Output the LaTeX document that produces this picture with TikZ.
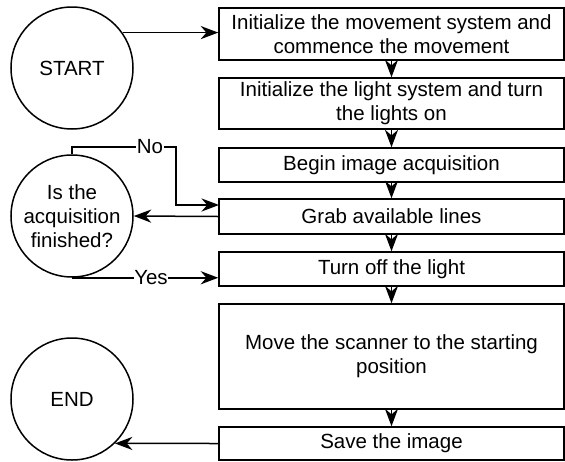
\documentclass[tikz,border=0pt]{standalone}
\usepackage{fontspec}
\setmainfont{Liberation Sans}
\usetikzlibrary{arrows.meta}
\newcommand\dfont{\fontsize{20.5}{24}\selectfont}
\begin{document}
\begin{tikzpicture}[x=1pt,y=-1pt,
  stepbox/.style={draw, line width=1.5pt, minimum width=345pt, inner sep=0pt, align=center, font=\dfont},
  term/.style={draw, circle, line width=1.5pt, minimum size=122pt, inner sep=0pt, align=center, font=\dfont},
  arr/.style={line width=1.5pt, arrows={-Stealth[scale=1.8]}},
  lbl/.style={fill=white, inner sep=0.5pt, font=\dfont}]
\useasboundingbox (0,0) rectangle (565,461);
\node[stepbox, minimum height=52pt] (b1) at (391.5,34) {Initialize the movement system and\\commence the movement};
\node[stepbox, minimum height=51pt] (b2) at (391.5,103.5) {Initialize the light system and turn\\the lights on};
\node[stepbox, minimum height=34pt] (b3) at (391.5,165) {Begin image acquisition};
\node[stepbox, minimum height=35pt] (b4) at (391.5,216.5) {Grab available lines};
\node[stepbox, minimum height=34pt] (b5) at (391.5,269) {Turn off the light};
\node[stepbox, minimum height=105pt] (b6) at (391.5,356.5) {Move the scanner to the starting\\position};
\node[stepbox, minimum height=33pt] (b7) at (391.5,443.5) {Save the image};
\node[term] (start) at (72,68) {START};
\node[term] (dec) at (72,216) {Is the\\acquisition\\finished?};
\node[term] (endc) at (72,399) {END};
\coordinate (nocorner) at (176,147);
\coordinate (noend) at (219,205);
\draw[arr] (start.35) -- (start.35 -| b1.west);
\draw[arr] (b1.south) -- (b2.north);
\draw[arr] (b2.south) -- (b3.north);
\draw[arr] (b3.south) -- (b4.north);
\draw[arr] (b4.south) -- (b5.north);
\draw[arr] (b5.south) -- (b6.north);
\draw[arr] (b6.south) -- (b7.north);
\draw[arr] (dec.north) |- node[lbl, pos=0.875] {No} (nocorner) |- (noend);
\draw[arr] (b4.west) -- (dec.east);
\draw[arr] (dec.south) -- node[lbl, pos=0.54] {Yes} (dec.south -| b5.west);
\draw[arr] (b7.west) -- (endc.-46);
\end{tikzpicture}
\end{document}
